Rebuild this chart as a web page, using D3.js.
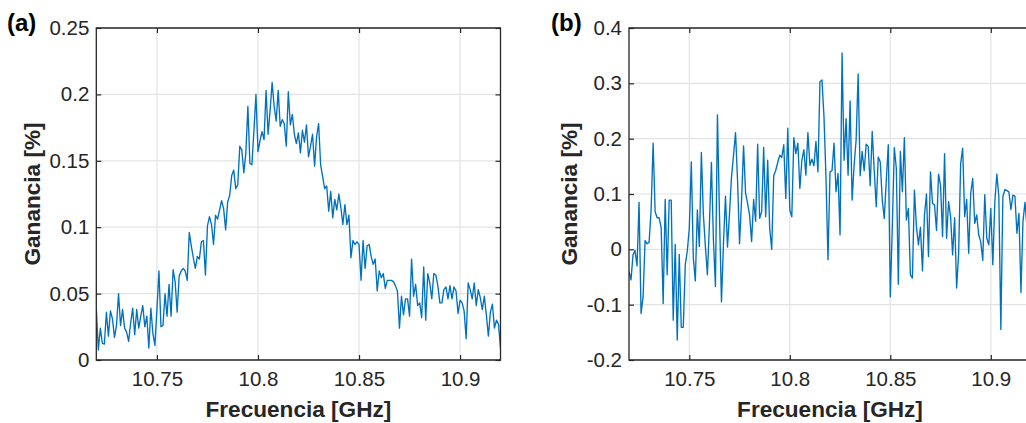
<!DOCTYPE html>
<html><head><meta charset="utf-8">
<script src="https://cdn.jsdelivr.net/npm/d3@7"></script>
<style>html,body{margin:0;padding:0;background:#fff;overflow:hidden}</style>
</head><body><svg id="c" width="1026" height="423"></svg>
<script>
// Frequency sweep: 10.72 GHz to 10.92 GHz, 1 MHz steps (201 points)
const freqStartGHz = 10.72;
const freqStepGHz = 0.001;
const freqCount = 201;

const gainA = [
0.039,0.0075,0.024,0.0125,0.012,0.036,0.018,0.037,0.031,0.017,
0.026,0.050,0.026,0.038,0.024,0.021,0.014,0.028,0.039,0.019,
0.038,0.024,0.033,0.041,0.025,0.033,0.009,0.039,0.020,0.011,
0.038,0.067,0.025,0.026,0.050,0.033,0.057,0.033,0.068,0.059,
0.036,0.063,0.067,0.069,0.067,0.060,0.096,0.086,0.077,0.069,
0.078,0.076,0.089,0.090,0.064,0.101,0.108,0.102,0.087,0.109,
0.106,0.113,0.120,0.114,0.098,0.119,0.124,0.139,0.143,0.129,
0.132,0.161,0.158,0.141,0.156,0.191,0.148,0.147,0.173,0.200,
0.157,0.165,0.172,0.166,0.203,0.170,0.188,0.209,0.191,0.180,
0.203,0.176,0.181,0.178,0.161,0.202,0.177,0.185,0.170,0.163,
0.171,
0.156,0.173,0.164,0.177,0.153,0.161,0.170,0.146,0.168,0.178,
0.147,0.138,0.129,0.131,0.112,0.127,0.107,0.121,0.113,0.125,
0.115,0.102,0.117,0.102,0.109,0.077,0.090,0.087,0.089,0.087,
0.060,0.090,0.069,0.086,0.087,0.078,0.072,0.076,0.052,0.067,
0.062,0.065,0.054,0.060,0.060,0.060,0.059,0.056,0.052,0.024,
0.048,0.034,0.046,0.046,0.033,0.076,0.048,0.057,0.041,0.043,
0.032,0.070,0.030,0.065,0.058,0.046,0.065,0.064,0.056,0.043,
0.043,0.053,0.055,0.046,0.056,0.046,0.055,0.052,0.035,0.045,
0.043,0.037,0.016,0.058,0.053,0.046,0.058,0.041,0.053,0.047,
0.038,0.048,0.034,0.018,0.036,0.042,0.024,0.030,0.027,0.009
];

const gainB = [
-0.040,-0.055,-0.010,-0.002,-0.030,0.085,-0.116,-0.086,0.016,0.010,
0.013,0.071,0.192,0.068,0.057,0.057,0.039,-0.098,0.090,-0.046,
0.089,0.089,-0.128,0.009,-0.164,-0.009,-0.141,-0.141,-0.028,-0.003,
0.038,0.158,-0.016,-0.057,0.071,0.005,0.175,0.063,0.005,-0.046,
0.044,0.157,0.017,-0.067,0.243,0.065,-0.095,0.011,0.096,0.004,
0.065,0.131,0.170,0.211,0.125,0.010,0.089,0.187,0.101,0.083,
0.062,0.014,0.090,0.051,0.190,0.056,0.068,0.184,0.059,0.161,
0.038,0.000,0.133,0.143,0.157,0.170,0.166,0.189,0.092,0.219,
0.071,0.059,0.202,0.173,0.192,0.110,0.161,0.180,0.134,0.211,
0.152,0.163,0.151,0.195,0.140,0.303,0.306,0.240,0.130,-0.019,
0.140,0.142,0.192,0.104,0.137,0.026,0.355,0.161,0.236,0.134,
0.268,0.089,0.152,0.198,0.317,0.133,0.177,0.142,0.190,0.186,
0.115,0.213,0.143,0.077,0.167,0.158,0.089,0.056,0.125,0.189,
-0.086,0.041,0.184,0.146,-0.063,0.177,0.104,0.202,0.053,0.074,
-0.046,-0.052,0.107,0.041,0.008,0.040,-0.039,0.062,0.100,-0.013,
0.140,0.083,0.080,0.034,0.136,0.116,0.023,0.173,0.020,0.086,
0.059,-0.010,0.057,-0.070,-0.007,0.155,0.183,0.059,0.090,-0.007,
0.101,0.128,0.047,0.062,0.026,0.014,-0.020,0.099,0.020,0.008,
0.074,-0.028,0.086,0.136,0.095,-0.145,0.095,0.108,0.106,0.104,
0.072,0.098,0.096,0.029,0.065,-0.078,0.050,0.085,0.040,0.070,
0.060
];

const xTicks = [10.75, 10.8, 10.85, 10.9];
const yTicksA = [0, 0.05, 0.1, 0.15, 0.2, 0.25];
const yTicksB = [-0.2, -0.1, 0, 0.1, 0.2, 0.3, 0.4];
const xLabelText = "Frecuencia [GHz]";
const yLabelText = "Ganancia [%]";
const panelTags = ["(a)", "(b)"];

const freqGHz = d3.range(freqCount).map(i => +(freqStartGHz + i * freqStepGHz).toFixed(3));

const svg = d3.select("#c");
const FONT = "'Liberation Sans', Arial, Helvetica, sans-serif";
const TXT = "#262626";
const LINE = "#0072BD";
const GRID = "#e3e3e3";

function drawPanel(opts) {
  const {left, right, top, bottom, yDomain, yTicks, values, tag, tagX, ylabX, showRight, id} = opts;
  const x = d3.scaleLinear().domain([10.72, 10.92]).range([left, right]);
  const y = d3.scaleLinear().domain(yDomain).range([bottom, top]);
  const g = svg.append("g");

  // grid
  g.append("g").selectAll("line.gx").data(xTicks).join("line")
    .attr("x1", d => x(d)).attr("x2", d => x(d)).attr("y1", top).attr("y2", bottom)
    .attr("stroke", GRID).attr("stroke-width", 1.2);
  g.append("g").selectAll("line.gy").data(yTicks).join("line")
    .attr("x1", left).attr("x2", right).attr("y1", d => y(d)).attr("y2", d => y(d))
    .attr("stroke", GRID).attr("stroke-width", 1.2);

  // clip
  svg.append("clipPath").attr("id", id).append("rect")
    .attr("x", left).attr("y", top).attr("width", right - left).attr("height", bottom - top);

  const line = d3.line().x((d, i) => x(freqGHz[i])).y(d => y(d));
  g.append("path").datum(values).attr("clip-path", `url(#${id})`)
    .attr("d", line).attr("fill", "none").attr("stroke", LINE).attr("stroke-width", 1.35)
    .attr("stroke-linejoin", "round");

  // axes
  const fmt = d => String(d);
  const xb = g.append("g").attr("transform", `translate(0,${bottom})`)
    .call(d3.axisBottom(x).tickValues(xTicks).tickFormat(fmt).tickSize(-5).tickPadding(11));
  const xt = g.append("g").attr("transform", `translate(0,${top})`)
    .call(d3.axisTop(x).tickValues(xTicks).tickFormat("").tickSize(-5));
  const yl = g.append("g").attr("transform", `translate(${left},0)`)
    .call(d3.axisLeft(y).tickValues(yTicks).tickFormat(fmt).tickSize(-5).tickPadding(7));
  const axes = [xb, xt, yl];
  if (showRight) {
    axes.push(g.append("g").attr("transform", `translate(${right},0)`)
      .call(d3.axisRight(y).tickValues(yTicks).tickFormat("").tickSize(-5)));
  }
  axes.forEach(a => {
    a.select(".domain").remove();
    a.selectAll(".tick line").attr("stroke", TXT).attr("stroke-width", 1.2);
    a.selectAll(".tick text").attr("fill", TXT).attr("font-family", FONT).attr("font-size", 20.5);
  });

  // box
  g.append("path")
    .attr("d", `M${left},${top}H${right}V${bottom}H${left}Z`)
    .attr("fill", "none").attr("stroke", TXT).attr("stroke-width", 1.3);

  // labels
  g.append("text").attr("x", (left + right) / 2).attr("y", 417)
    .attr("text-anchor", "middle").attr("font-family", FONT).attr("font-weight", "bold")
    .attr("font-size", 22.6).attr("fill", TXT).text(xLabelText);
  g.append("text").attr("transform", `translate(${ylabX},${(top + bottom) / 2}) rotate(-90)`)
    .attr("text-anchor", "middle").attr("font-family", FONT).attr("font-weight", "bold")
    .attr("font-size", 22.6).attr("fill", TXT).text(yLabelText);
  g.append("text").attr("x", tagX).attr("y", 31)
    .attr("font-family", FONT).attr("font-weight", "bold")
    .attr("font-size", 24).attr("fill", "#000").text(tag);
}

drawPanel({left: 96.3, right: 500.5, top: 28, bottom: 360, yDomain: [0, 0.25], yTicks: yTicksA,
  values: gainA, tag: panelTags[0], tagX: 7, ylabX: 40, showRight: true, id: "clipA"});
drawPanel({left: 629, right: 1031, top: 28, bottom: 360, yDomain: [-0.2, 0.4], yTicks: yTicksB,
  values: gainB, tag: panelTags[1], tagX: 551, ylabX: 577, showRight: true, id: "clipB"});
</script>
</body></html>
